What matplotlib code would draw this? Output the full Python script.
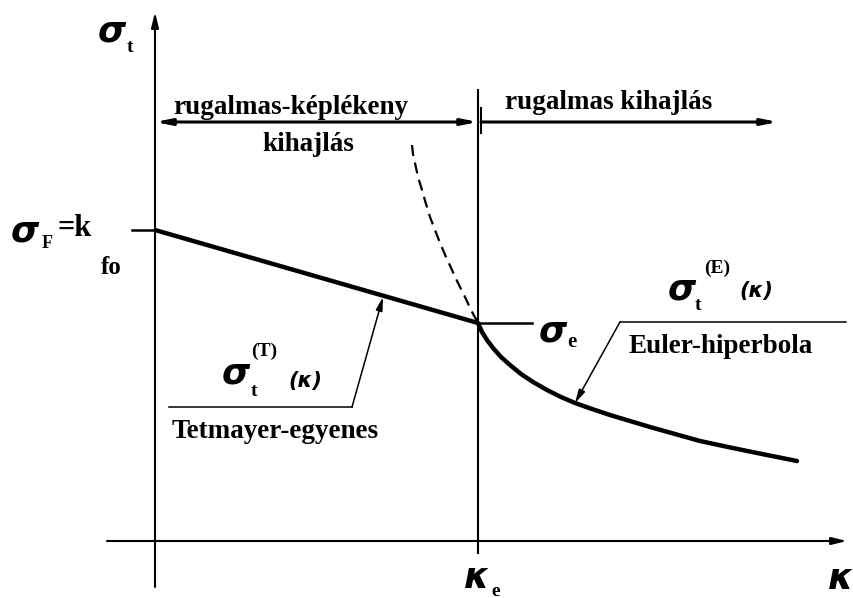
import matplotlib
matplotlib.use("Agg")
import matplotlib.pyplot as plt

# Tetmayer straight line (kappa, sigma_t) in drawing units
tetmayer_kappa = [0, 323]
tetmayer_sigma = [311, 218]

# Euler hyperbola, valid part (kappa >= kappa_e)
euler_kappa = [323, 327, 332, 338, 346, 355, 366, 378, 392, 406, 420,
               437, 455, 475, 495, 520, 545, 573, 602, 622, 642]
euler_sigma = [218, 209, 201, 193, 184, 176, 167, 159, 151, 144, 138,
               132, 126, 120, 114, 107, 100, 94, 88, 84, 80]

# Euler hyperbola continued below kappa_e (not valid, dashed)
euler_ext_kappa = [257, 258, 260, 263, 267, 271, 275, 280, 285, 291, 297, 303, 310, 316, 323]
euler_ext_sigma = [396, 387, 378, 364, 351, 337, 324, 311, 298, 284, 271, 258, 244, 231, 218]

kappa_e = 323
sigma_e = 218
sigma_F = 311
range_y = 419

SERIF = "Liberation Serif"
SANS = "DejaVu Sans"

fig = plt.figure(figsize=(8.54, 5.98), dpi=100)
ax = fig.add_axes([0, 0, 1, 1])
ax.set_xlim(-155, 699)
ax.set_ylim(-57, 541)
ax.axis("off")

axis_arrow = dict(arrowstyle="-|>,head_length=0.9,head_width=0.22", color="black", lw=1.5,
                  shrinkA=0, shrinkB=0)

# coordinate axes
ax.annotate("", xy=(0, 529), xytext=(0, -46), arrowprops=axis_arrow)
ax.annotate("", xy=(692, 0), xytext=(-48, 0), arrowprops=axis_arrow)

# kappa_e divider
ax.plot([kappa_e, kappa_e], [-12, 451], color="black", lw=1.5)

# ranges above the curves
range_arrow = dict(arrowstyle="<|-|>,head_length=0.9,head_width=0.18", color="black", lw=2.2,
                   shrinkA=0, shrinkB=0)
ax.annotate("", xy=(kappa_e, range_y), xytext=(0, range_y), arrowprops=range_arrow)
ax.annotate("", xy=(623, range_y),
            xytext=(kappa_e + 3, range_y),
            arrowprops=dict(arrowstyle="-|>,head_length=0.9,head_width=0.18", color="black",
                            lw=2.2, shrinkA=0, shrinkB=0))
ax.plot([kappa_e + 3, kappa_e + 3], [408, 433], color="black", lw=1.5)

# curves
ax.plot(tetmayer_kappa, tetmayer_sigma, color="black", lw=3.2, solid_capstyle="butt")
ax.plot(euler_kappa, euler_sigma, color="black", lw=3.2, solid_capstyle="round",
        solid_joinstyle="round")
ax.plot(euler_ext_kappa, euler_ext_sigma, color="black", lw=1.6, ls=(0, (5, 3)))

# level markers
ax.plot([-23, 0], [sigma_F, sigma_F], color="black", lw=1.8)
ax.plot([kappa_e, 377], [sigma_e, sigma_e], color="black", lw=1.8)

# leader lines with arrows
leader = dict(arrowstyle="-|>,head_length=0.8,head_width=0.2", color="black", lw=1.1,
              shrinkA=0, shrinkB=0)
ax.plot([14, 197], [134, 134], color="black", lw=1.1)
ax.annotate("", xy=(228, 244), xytext=(197, 134), arrowprops=leader)
ax.plot([465, 691], [219, 219], color="black", lw=1.1)
ax.annotate("", xy=(420, 138), xytext=(465, 219), arrowprops=leader)


def sym(x, y, s, size=26):
    ax.text(x, y, s, family=SANS, style="oblique", weight="bold", fontsize=size,
            ha="center", va="center")


def word(x, y, s, size=19.5, ha="center", va="center"):
    ax.text(x, y, s, family=SERIF, weight="bold", fontsize=size, ha=ha, va=va)


# axis labels
sym(-43, 510, "σ")
word(-25, 493, "t", size=14)
sym(322, -37, "κ")
word(341, -50, "e", size=14)
sym(686, -38, "κ")

# sigma_F = k_fo
sym(-130, 310, "σ")
word(-108, 297, "F", size=13)
word(-80, 312, "=k", size=22)
word(-44, 273, "fo", size=18)

# sigma_e
sym(398, 210, "σ")
word(417, 199, "e", size=15)

# range descriptions
word(136, 427, "rugalmas-képlékeny", va="baseline")
word(153, 390, "kihajlás", va="baseline")
word(350, 432, "rugalmas kihajlás", ha="left", va="baseline")

# Tetmayer label
sym(81, 168, "σ")
word(99, 150, "t", size=14)
word(109, 190, "(T)", size=14)
sym(150, 160, "(κ)", size=15)
word(17, 103, "Tetmayer-egyenes", ha="left", va="baseline")

# Euler label
sym(527, 252, "σ")
word(543, 235, "t", size=14)
word(562, 273, "(E)", size=14)
sym(601, 250, "(κ)", size=15)
word(474, 188, "Euler-hiperbola", ha="left", va="baseline")

fig.savefig("out.png", dpi=100)
